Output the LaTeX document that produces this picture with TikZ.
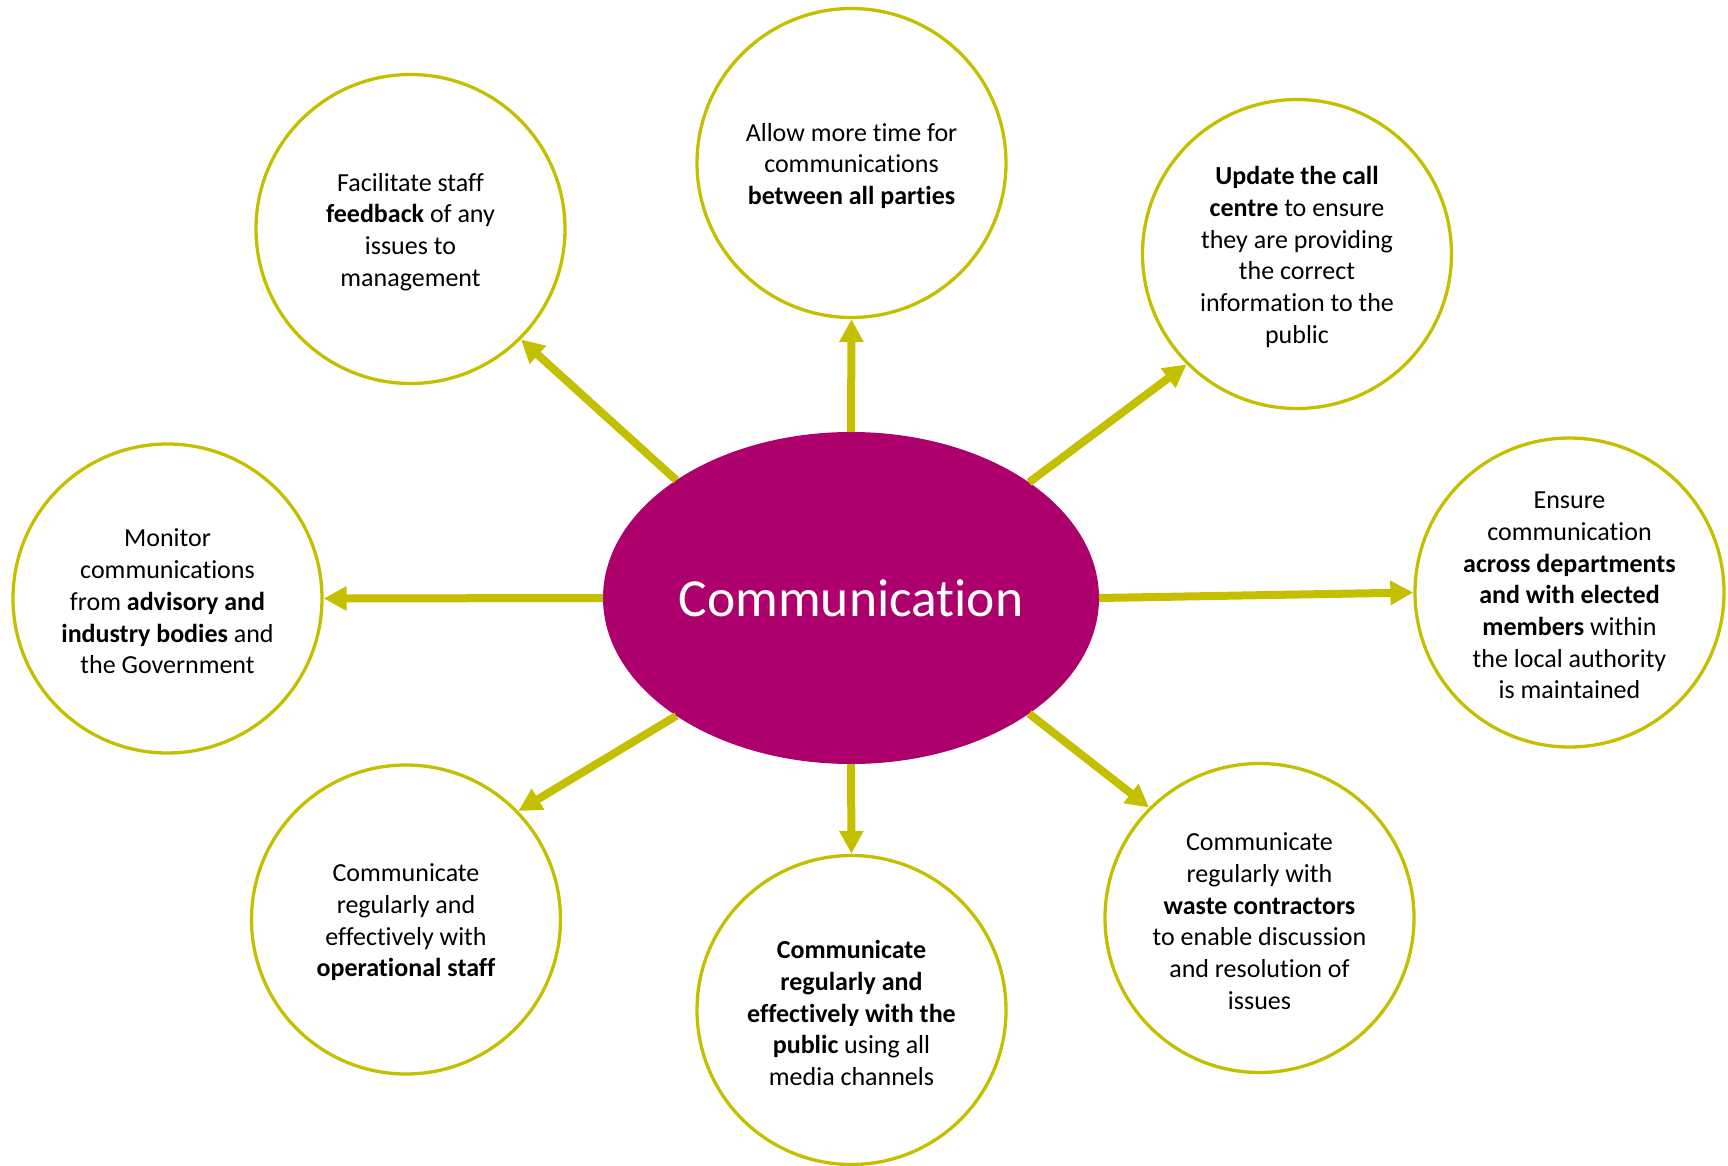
\documentclass[tikz,border=0pt]{standalone}
\usepackage{fontspec}
\setmainfont{Carlito}[Ligatures={NoCommon}]
\usetikzlibrary{arrows.meta,shapes.geometric}
\definecolor{myolive}{RGB}{196,192,0}
\definecolor{mymagenta}{RGB}{173,0,108}
\begin{document}
\begin{tikzpicture}[x=1pt,y=-1pt,
  item/.style={circle, draw=myolive, line width=3.3pt, minimum size=309pt, inner sep=0pt, fill=white},
  itemtext/.style={align=center, font=\fontsize{26}{31.7}\selectfont, text=black, inner sep=0pt, yshift=-3pt},
  link/.style={draw=myolive, line width=8pt, -{Triangle[length=23pt,width=23pt]}},
  hub/.style={ellipse, fill=mymagenta, minimum width=496pt, minimum height=332pt, inner sep=0pt, outer sep=0pt, text=white, font=\fontsize{53.5}{62}\selectfont}
]
\useasboundingbox (0,0) rectangle (1728,1166);
\node[hub] (comm) at (851,598) {\raisebox{-3pt}{Communication}};

\node[item] (c1) at (851.5,163) {};
\node[item] (c2) at (410.5,229) {};
\node[item] (c3) at (1297,254) {};
\node[item] (c4) at (167.5,598.5) {};
\node[item] (c5) at (1569.5,592.5) {};
\node[item] (c6) at (406,919.5) {};
\node[item] (c7) at (851.5,1010) {};
\node[item] (c8) at (1259.5,918) {};

\node[itemtext] (t1) at (c1.center) {Allow more time for\\communications\\\textbf{between all parties}};
\node[itemtext] (t2) at (c2.center) {Facilitate staff\\\textbf{feedback} of any\\issues to\\management};
\node[itemtext] (t3) at (c3.center) {\textbf{Update the call}\\\textbf{centre} to ensure\\they are providing\\the correct\\information to the\\public};
\node[itemtext] (t4) at (c4.center) {Monitor\\communications\\from \textbf{advisory and}\\\textbf{industry bodies} and\\the Government};
\node[itemtext] (t5) at (c5.center) {Ensure\\communication\\\textbf{across departments}\\\textbf{and with elected}\\\textbf{members} within\\the local authority\\is maintained};
\node[itemtext] (t6) at (c6.center) {Communicate\\regularly and\\effectively with\\\textbf{operational staff}};
\node[itemtext] (t7) at (c7.center) {\textbf{Communicate}\\\textbf{regularly and}\\\textbf{effectively with the}\\\textbf{public} using all\\media channels};
\node[itemtext] (t8) at (c8.center) {Communicate\\regularly with\\\textbf{waste contractors}\\to enable discussion\\and resolution of\\issues};

\draw[link] (comm.90) -- (c1.-90);
\draw[link] (comm.146.6) -- (c2.-45);
\draw[link] (comm.33.7) -- (c3.-135);
\draw[link] (comm.180) -- (c4.0);
\draw[link] (comm.0) -- (c5.180);
\draw[link] (comm.-146.2) -- (c6.44.7);
\draw[link] (comm.-90) -- (c7.90);
\draw[link] (comm.-33.5) -- (c8.135.4);
\end{tikzpicture}
\end{document}
